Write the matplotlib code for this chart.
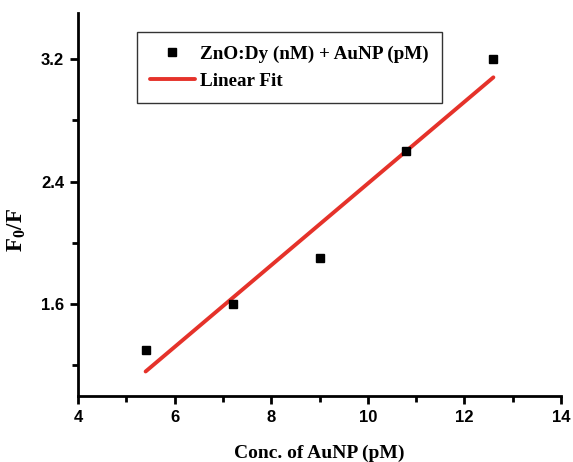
import numpy as np
import matplotlib
matplotlib.use("Agg")
import matplotlib.pyplot as plt
from matplotlib.ticker import MultipleLocator

plt.rcParams["mathtext.fontset"] = "custom"
plt.rcParams["mathtext.rm"] = "Liberation Serif:bold"
plt.rcParams["mathtext.bf"] = "Liberation Serif:bold"

# Quenching data: F0/F versus AuNP concentration
conc_aunp = [5.4, 7.2, 9.0, 10.8, 12.6]
f0_over_f = [1.30, 1.60, 1.90, 2.60, 3.20]
x_ticks = [4, 6, 8, 10, 12, 14]
y_ticks = [1.6, 2.4, 3.2]

slope, intercept = np.polyfit(conc_aunp, f0_over_f, 1)
fit_x = np.array([min(conc_aunp), max(conc_aunp)])
fit_y = slope * fit_x + intercept

fig = plt.figure(figsize=(5.73, 4.62), dpi=100)
ax = fig.add_axes([78 / 573, 1 - 396 / 462, (561 - 78) / 573, (396 - 13) / 462])

ax.plot(conc_aunp, f0_over_f, linestyle="none", marker="s", markersize=5.5,
        color="black", label="ZnO:Dy (nM) + AuNP (pM)", zorder=3)
ax.plot(fit_x, fit_y, color="#e5322a", linewidth=2.8, label="Linear Fit",
        solid_capstyle="round", zorder=2)

ax.set_xlim(4, 14)
ax.set_ylim(1.0, 3.5)
ax.set_xticks(x_ticks)
ax.set_yticks(y_ticks)
ax.xaxis.set_minor_locator(MultipleLocator(1))
ax.yaxis.set_minor_locator(MultipleLocator(0.4))

for side in ("top", "right"):
    ax.spines[side].set_visible(False)
for side in ("left", "bottom"):
    ax.spines[side].set_linewidth(2.0)

ax.tick_params(which="major", direction="out", length=6, width=2.0, pad=4)
ax.tick_params(which="minor", direction="out", length=4, width=2.0)
for lbl in ax.get_xticklabels() + ax.get_yticklabels():
    lbl.set_fontfamily("Liberation Sans")
    lbl.set_fontweight("bold")
    lbl.set_fontsize(12)

ax.set_xlabel("Conc. of AuNP (pM)", fontfamily="Liberation Serif",
              fontweight="bold", fontsize=14, labelpad=14)
ax.set_ylabel(r"$\mathbf{F_0/F}$", fontsize=16.5)
ax.yaxis.set_label_coords(-0.104, 0.433)

leg = ax.legend(loc="upper left", bbox_to_anchor=((137 - 78) / 483, 1 - (32 - 13) / 383),
                prop={"family": "Liberation Serif", "weight": "bold", "size": 13.8},
                frameon=True, fancybox=False, framealpha=1, edgecolor="#333333",
                handlelength=2.3, handletextpad=0.3, borderpad=0.7,
                labelspacing=0.5, numpoints=1, borderaxespad=0)
leg.get_frame().set_linewidth(1.0)

fig.savefig("out.png", dpi=100)
